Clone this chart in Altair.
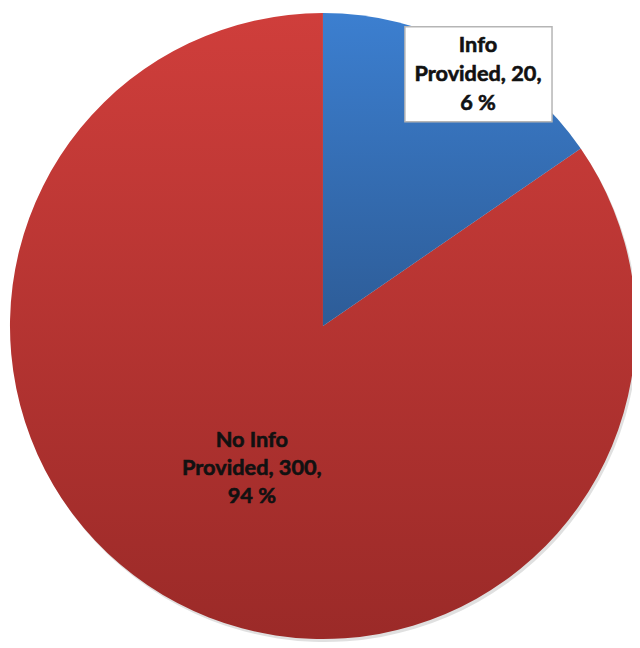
import math
import altair as alt
import pandas as pd

# ---- data ----
categories = ["Info Provided", "No Info Provided"]
counts = [20, 300]
percents = [6, 94]
# slice sizes as drawn in the reference (percent of the full circle)
shares = [15.4, 84.6]
order = [0, 1]


def make_label(cat, n, p):
    head, tail = cat.rsplit(" ", 1)
    return f"{head}\n{tail}, {n},\n{p} %"


labels = [make_label(c, n, p) for c, n, p in zip(categories, counts, percents)]

df = pd.DataFrame({
    "category": categories,
    "count": counts,
    "percent": percents,
    "share": shares,
    "order": order,
    "label": labels,
})

CX, CY, R = 319, 318, 317

theta_scale = alt.Scale(domain=[0, 100], range=[0, 2 * math.pi])

base = (
    alt.Chart(df)
    .transform_window(end="sum(share)", sort=[alt.SortField("order")])
    .transform_calculate(start="datum.end - datum.share")
)

enc = dict(
    theta=alt.Theta("start:Q", scale=theta_scale),
    theta2="end:Q",
)

red_grad = alt.Gradient(
    gradient="linear",
    stops=[alt.GradientStop(color="#cf3e3b", offset=0),
           alt.GradientStop(color="#9b2a28", offset=1)],
    x1=0, x2=0, y1=0, y2=1,
)
blue_grad = alt.Gradient(
    gradient="linear",
    stops=[alt.GradientStop(color="#3c7fd0", offset=0),
           alt.GradientStop(color="#2d5c97", offset=1)],
    x1=0, x2=0, y1=0, y2=1,
)

shadow = base.mark_arc(outerRadius=R, color="#000000", opacity=0.12,
                       x=CX + 2, y=CY + 3).encode(**enc)

red = (base.transform_filter("datum.category == 'No Info Provided'")
       .mark_arc(outerRadius=R, fill=red_grad, x=CX, y=CY)
       .encode(**enc))
blue = (base.transform_filter("datum.category == 'Info Provided'")
        .mark_arc(outerRadius=R, fill=blue_grad, x=CX, y=CY)
        .encode(**enc))

box = alt.Chart(pd.DataFrame({"k": [0]})).mark_rect(
    fill="white", stroke="#b5b5b5", strokeWidth=1.5
).encode(x=alt.value(402), x2=alt.value(551), y=alt.value(15), y2=alt.value(111))

text_props = dict(font="Lato", fontWeight="bold", fontSize=22, lineBreak="\n",
                  align="center", baseline="middle", color="#111111",
                  stroke="#111111", strokeWidth=0.6)

label_blue = (base.transform_filter("datum.category == 'Info Provided'")
              .mark_text(x=476, y=33, lineHeight=29.5, **text_props)
              .encode(text="label:N"))
label_red = (base.transform_filter("datum.category == 'No Info Provided'")
             .mark_text(x=247, y=434, lineHeight=28, **text_props)
             .encode(text="label:N"))

chart = (
    alt.layer(shadow, red, blue, box, label_blue, label_red)
    .properties(width=632, height=640, autosize="none", padding=0, background="white")
    .configure_view(strokeWidth=0)
)

chart.save("out.html", embed_options={"renderer": "svg", "actions": False})
